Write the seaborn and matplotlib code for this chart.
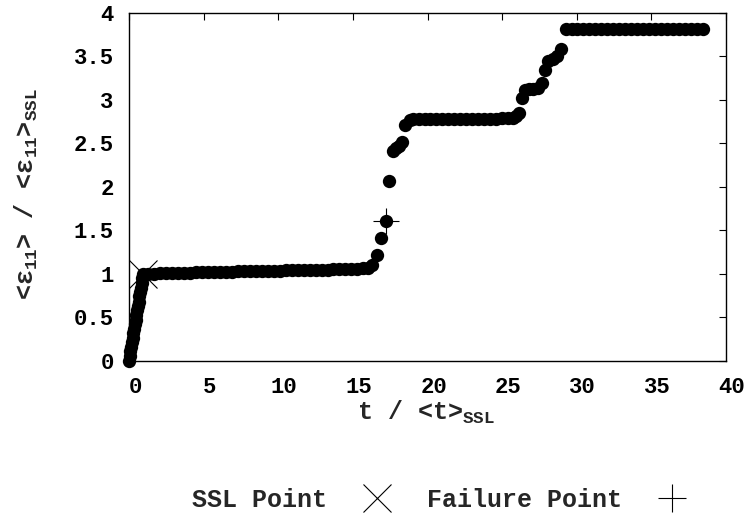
import numpy as np
import pandas as pd
import matplotlib
matplotlib.use("Agg")
import matplotlib.pyplot as plt
import matplotlib.transforms as mtransforms
from matplotlib.lines import Line2D
import seaborn as sns

# Loading branch up to the SSL point
loading_t = [0.00, 0.05, 0.10, 0.15, 0.20, 0.25, 0.30, 0.35, 0.40, 0.45,
             0.50, 0.55, 0.60, 0.65, 0.70, 0.75, 0.80, 0.85, 0.90, 0.95]
loading_e = [0.00, 0.05, 0.11, 0.16, 0.21, 0.26, 0.32, 0.37, 0.42, 0.47,
             0.53, 0.58, 0.63, 0.68, 0.74, 0.79, 0.84, 0.89, 0.95, 1.00]

# First plateau
plateau1_t = [1.3, 1.7, 2.1, 2.5, 2.9, 3.3, 3.7, 4.1, 4.5, 4.9, 5.3, 5.7, 6.1,
              6.5, 6.9, 7.3, 7.7, 8.1, 8.5, 8.9, 9.3, 9.7, 10.1, 10.5, 10.9,
              11.3, 11.7, 12.1, 12.5, 12.9, 13.3, 13.7, 14.1, 14.5, 14.9,
              15.3, 15.7, 16.0]
plateau1_e = [1.000, 1.002, 1.004, 1.006, 1.008, 1.010, 1.011, 1.013, 1.015,
              1.017, 1.018, 1.020, 1.021, 1.023, 1.024, 1.026, 1.027, 1.029,
              1.030, 1.032, 1.033, 1.035, 1.036, 1.038, 1.039, 1.041, 1.042,
              1.044, 1.045, 1.047, 1.048, 1.050, 1.052, 1.053, 1.055, 1.058,
              1.062, 1.070]

# First burst (contains the failure point)
burst1_t = [16.3, 16.6, 16.9, 17.2, 17.45, 17.7, 17.9, 18.1, 18.3, 18.5, 18.8]
burst1_e = [1.10, 1.22, 1.41, 1.61, 2.06, 2.41, 2.44, 2.47, 2.51, 2.71, 2.77]

# Second plateau
plateau2_t = [19.0, 19.4, 19.8, 20.2, 20.6, 21.0, 21.4, 21.8, 22.2, 22.6,
              23.0, 23.4, 23.8, 24.2, 24.6, 25.0, 25.4, 25.7]
plateau2_e = [2.775, 2.775, 2.776, 2.776, 2.777, 2.777, 2.778, 2.778, 2.779,
              2.779, 2.780, 2.780, 2.781, 2.782, 2.783, 2.784, 2.786, 2.790]

# Second burst
burst2_t = [25.9, 26.1, 26.35, 26.55, 26.8, 27.1, 27.4, 27.65, 27.9, 28.1,
            28.4, 28.65, 28.95]
burst2_e = [2.81, 2.85, 3.02, 3.11, 3.12, 3.12, 3.14, 3.19, 3.34, 3.45,
            3.47, 3.50, 3.58]

# Final plateau
plateau3_t = [29.25, 29.65, 30.05, 30.45, 30.85, 31.25, 31.65, 32.05, 32.45,
              32.85, 33.25, 33.65, 34.05, 34.45, 34.85, 35.25, 35.65, 36.05,
              36.45, 36.85, 37.25, 37.65, 38.05, 38.45]
plateau3_e = [3.81] * len(plateau3_t)

# Marked points
ssl_point = (0.95, 1.00)
failure_point = (17.2, 1.61)

xticks = [0, 5, 10, 15, 20, 25, 30, 35, 40]
yticks = [0, 0.5, 1, 1.5, 2, 2.5, 3, 3.5, 4]
ytick_labels = ["0", "0.5", "1", "1.5", "2", "2.5", "3", "3.5", "4"]

df = pd.DataFrame({
    "t": loading_t + plateau1_t + burst1_t + plateau2_t + burst2_t + plateau3_t,
    "strain": loading_e + plateau1_e + burst1_e + plateau2_e + burst2_e + plateau3_e,
})

sns.set_theme(style="white")
mono = "Liberation Mono"
plt.rcParams["font.family"] = [mono, "DejaVu Sans Mono"]
plt.rcParams["font.weight"] = "bold"
plt.rcParams["mathtext.fontset"] = "custom"
for key in ("rm", "it", "bf", "sf", "tt", "cal"):
    plt.rcParams["mathtext." + key] = "Liberation Mono:bold"

fig = plt.figure(figsize=(7.45, 5.21), dpi=100)
ax = fig.add_axes([129 / 745, 1 - 360.7 / 521, (726 - 129) / 745, (360.7 - 12.7) / 521])

sns.scatterplot(data=df, x="t", y="strain", color="black", s=92,
                linewidth=0, marker="o", ax=ax, legend=False, zorder=3,
                clip_on=False)

ax.plot(*ssl_point, marker="x", markersize=20, markeredgewidth=0.8,
        color="black", linestyle="none", zorder=4, clip_on=False)
ax.plot(*failure_point, marker="+", markersize=19, markeredgewidth=0.8,
        color="black", linestyle="none", zorder=4)

ax.set_xlim(0, 40)
ax.set_ylim(0, 4)
ax.set_xticks(xticks)
ax.set_xticklabels([str(v) for v in xticks])
ax.set_yticks(yticks)
ax.set_yticklabels(ytick_labels)
ax.tick_params(direction="in", length=5, width=0.8, top=True, right=True,
               labelsize=16, color="black", labelcolor="black")
ax.tick_params(axis="y", pad=11)
ax.tick_params(axis="x", pad=11.5)
for lab in ax.get_xticklabels():
    lab.set_fontweight("bold")
    lab.set_transform(lab.get_transform() +
                      mtransforms.ScaledTranslation(0.06, 0, fig.dpi_scale_trans))
for lab in ax.get_yticklabels():
    lab.set_fontweight("bold")

for sp in ax.spines.values():
    sp.set_linewidth(1.0)
    sp.set_color("black")
    sp.set_visible(True)

ax.set_xlabel(r"t / <t>$_{SSL}$", fontsize=18, fontweight="bold", va="center")
ax.xaxis.set_label_coords(0.4975, -0.15)
ax.set_ylabel(r"<ε$_{11}$> / <ε$_{11}$>$_{SSL}$", fontsize=18, fontweight="bold",
              va="center", ha="center")
ax.yaxis.set_label_coords(-0.172, 0.479)

handles = [
    Line2D([], [], marker="x", markersize=20, markeredgewidth=0.8,
           color="black", linestyle="none"),
    Line2D([], [], marker="+", markersize=20, markeredgewidth=0.8,
           color="black", linestyle="none"),
]
fig.legend(handles, ["SSL Point", "Failure Point"], ncol=2, markerfirst=False,
           frameon=False, loc="center left",
           bbox_to_anchor=(192 / 745, 1 - 500 / 521), bbox_transform=fig.transFigure,
           borderpad=0, borderaxespad=0, handlelength=2.0, handletextpad=1.0,
           columnspacing=1.0, prop={"family": mono, "weight": "bold", "size": 18})

fig.savefig("out.png", dpi=100)
